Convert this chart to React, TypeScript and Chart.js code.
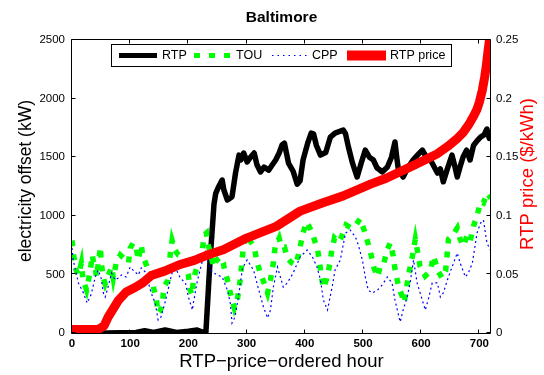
import React, { useEffect, useRef } from "react";
import { Chart, registerables } from "chart.js";

Chart.register(...registerables);

// Axis ticks
const hourTicks = [0, 100, 200, 300, 400, 500, 600, 700];
const kwTicks = [0, 500, 1000, 1500, 2000, 2500];
const kwTickLabels = ["0", "500", "1000", "1500", "2000", "2500"];
const priceTicks = [0, 0.05, 0.1, 0.15, 0.2, 0.25];
const priceTickLabels = ["0", "0.05", "0.1", "0.15", "0.2", "0.25"];

// [hour, kW] — real-time pricing offset
const rtpPoints: [number, number][] = [
  [0, 0], [60, 0], [110, 5], [125, 20], [140, 5], [160, 25], [180, 5], [200, 15], [215, 25], [225, 5],
  [230, 0], [237, 600], [244, 1100], [247, 1192], [252, 1248], [258, 1305], [261, 1220], [267, 1135],
  [275, 1163], [281, 1365], [287, 1518], [290, 1476], [295, 1536], [301, 1459], [307, 1502], [313, 1536],
  [318, 1433], [324, 1374], [330, 1416], [338, 1390], [344, 1433], [350, 1476], [356, 1536], [361, 1604],
  [365, 1620], [372, 1450], [380, 1380], [387, 1270], [392, 1300], [397, 1476], [405, 1620], [411, 1706],
  [415, 1700], [420, 1600], [427, 1518], [436, 1540], [444, 1672], [452, 1706], [460, 1720], [466, 1732],
  [470, 1700], [475, 1587], [482, 1450], [490, 1331], [497, 1450], [504, 1561], [511, 1500], [518, 1476],
  [524, 1410], [533, 1374], [542, 1416], [549, 1500], [555, 1630], [558, 1500], [561, 1390], [569, 1331],
  [576, 1400], [586, 1476], [594, 1520], [602, 1561], [609, 1500], [616, 1476], [622, 1420], [628, 1365],
  [633, 1400], [638, 1290], [645, 1400], [653, 1518], [658, 1420], [662, 1331], [667, 1420], [672, 1502],
  [678, 1560], [684, 1476], [690, 1600], [696, 1640], [702, 1672], [708, 1690], [713, 1740], [717, 1660],
  [720, 1700],
];

// [hour, kW] — time-of-use offset
const touPoints: [number, number][] = [
  [0, 790], [3, 660], [7, 537], [11, 495], [16, 597], [19, 452], [25, 367], [31, 520], [35, 665], [37, 600],
  [40, 563], [42, 478], [49, 734], [50, 606], [54, 469], [57, 420], [68, 563], [71, 469], [76, 600], [83, 665],
  [92, 623], [97, 597], [100, 725], [105, 768], [110, 734], [114, 623], [119, 751], [122, 648], [126, 606],
  [129, 563], [134, 537], [140, 392], [145, 281], [148, 171], [152, 196], [155, 239], [157, 341], [160, 409],
  [165, 452], [169, 682], [172, 790], [177, 708], [183, 665], [190, 648], [195, 580], [200, 495], [203, 367],
  [207, 324], [208, 435], [212, 520], [217, 580], [224, 708], [227, 836], [231, 853], [233, 768], [238, 682],
  [243, 563], [248, 620], [255, 648], [260, 597], [263, 520], [269, 420], [272, 341], [279, 213], [284, 281],
  [289, 452], [294, 708], [298, 836], [305, 793], [313, 734], [318, 606], [323, 520], [330, 427], [336, 341],
  [341, 452], [346, 597], [349, 734], [356, 810], [360, 734], [365, 734], [370, 640], [377, 600], [384, 580],
  [389, 665], [397, 853], [403, 947], [408, 904], [415, 819], [422, 708], [425, 623], [428, 495], [432, 384],
  [437, 452], [442, 563], [446, 691], [451, 810], [458, 776], [463, 819], [471, 921], [480, 896], [488, 921],
  [495, 975], [502, 879], [509, 760], [514, 665], [519, 555], [525, 480], [530, 572], [535, 580], [542, 716],
  [547, 768], [552, 657], [555, 546], [561, 401], [567, 316], [571, 260], [578, 486], [585, 657], [590, 800],
  [593, 716], [598, 572], [607, 486], [616, 530], [621, 657], [630, 520], [636, 470], [642, 530], [647, 802],
  [653, 827], [662, 896], [667, 802], [672, 742], [679, 827], [684, 780], [690, 913], [696, 1000], [702, 1120],
  [707, 1109], [713, 1194], [720, 1150],
];

// [hour, kW] — critical peak pricing offset
const cppPoints: [number, number][] = [
  [0, 725], [2, 623], [11, 427], [19, 350], [26, 256], [33, 330], [40, 478], [45, 537], [50, 469], [54, 341],
  [57, 307], [62, 392], [68, 512], [74, 452], [80, 469], [85, 495], [93, 478], [100, 563], [105, 537],
  [114, 495], [119, 555], [126, 520], [131, 435], [136, 341], [143, 256], [148, 111], [153, 137], [160, 264],
  [165, 367], [171, 495], [176, 575], [186, 469], [195, 427], [200, 307], [207, 196], [208, 239], [215, 435],
  [220, 537], [229, 708], [234, 597], [241, 520], [250, 495], [258, 478], [267, 367], [272, 256], [275, 85],
  [280, 137], [286, 307], [293, 555], [301, 623], [312, 537], [320, 384], [329, 222], [336, 128], [341, 196],
  [346, 392], [353, 563], [358, 478], [363, 392], [370, 427], [380, 512], [392, 648], [404, 708], [413, 650],
  [421, 563], [427, 452], [432, 281], [439, 196], [447, 392], [452, 537], [461, 623], [470, 853], [478, 879],
  [487, 819], [492, 751], [499, 623], [504, 478], [509, 367], [516, 341], [525, 367], [533, 410], [542, 478],
  [550, 427], [555, 281], [561, 154], [564, 94], [569, 196], [576, 307], [581, 427], [587, 623], [593, 427],
  [602, 281], [607, 196], [612, 281], [619, 427], [628, 427], [633, 307], [638, 341], [645, 452], [653, 563],
  [662, 682], [667, 597], [676, 478], [681, 512], [688, 597], [696, 853], [702, 938], [707, 964], [713, 768],
  [719, 708],
];

// [hour, $/kWh] — RTP price, sorted ascending
const pricePoints: [number, number][] = [
  [0, 0.003], [45, 0.003], [55, 0.006], [62, 0.0135], [70, 0.02], [80, 0.028], [93, 0.035], [109, 0.039],
  [122, 0.043], [136, 0.049], [160, 0.053], [183, 0.058], [210, 0.062], [235, 0.067], [260, 0.071],
  [300, 0.081], [351, 0.091], [392, 0.104], [430, 0.111], [466, 0.117], [513, 0.127], [540, 0.132],
  [587, 0.143], [628, 0.153], [645, 0.159], [660, 0.165], [672, 0.171], [682, 0.178], [690, 0.185],
  [696, 0.191], [700, 0.197], [705, 0.207], [709, 0.218], [712, 0.228], [715, 0.241], [718, 0.252],
  [720, 0.262],
];

const FONT = '"Liberation Sans", Arial, Helvetica, sans-serif';

const toXY = (pts: [number, number][]) => pts.map(([x, y]) => ({ x, y }));

const decorPlugin = {
  id: "decor",
  afterDatasetsDraw(chart: any) {
    const { ctx, chartArea: a, scales } = chart;
    ctx.save();

    // axes box with inward ticks
    const L = Math.round(a.left) - 0.5;
    const R = Math.round(a.right) - 0.5;
    const T = Math.round(a.top) - 0.5;
    const B = Math.round(a.bottom) + 0.5;
    ctx.strokeStyle = "#000";
    ctx.lineWidth = 1;
    ctx.setLineDash([]);
    ctx.beginPath();
    ctx.rect(L, T, R - L, B - T);
    const tl = 4;
    hourTicks.forEach((v) => {
      const x = Math.round(scales.x.getPixelForValue(v)) - 0.5;
      ctx.moveTo(x, B);
      ctx.lineTo(x, B - tl);
      ctx.moveTo(x, T);
      ctx.lineTo(x, T + tl);
    });
    kwTicks.forEach((v) => {
      const y = Math.round(scales.y.getPixelForValue(v)) - 0.5;
      ctx.moveTo(L, y);
      ctx.lineTo(L + tl, y);
    });
    priceTicks.forEach((v) => {
      const y = Math.round(scales.y1.getPixelForValue(v)) - 0.5;
      ctx.moveTo(R, y);
      ctx.lineTo(R - tl, y);
    });
    ctx.stroke();

    // legend
    const lx = 111.5, ly = 44.5, lw = 340, lh = 22;
    ctx.fillStyle = "#fff";
    ctx.fillRect(lx, ly, lw, lh);
    ctx.strokeRect(lx, ly, lw, lh);
    const my = 55.5;
    const seg = (x1: number, x2: number, color: string, w: number, dash: number[]) => {
      ctx.save();
      ctx.strokeStyle = color;
      ctx.lineWidth = w;
      ctx.lineCap = "butt";
      ctx.setLineDash(dash);
      ctx.beginPath();
      ctx.moveTo(x1, my);
      ctx.lineTo(x2, my);
      ctx.stroke();
      ctx.restore();
    };
    seg(119, 157, "#000000", 5, []);
    seg(194, 232, "#00ff00", 5, [6, 9]);
    seg(272, 307, "#0000ff", 1, [1.5, 4]);
    seg(347, 386, "#ff0000", 10, []);
    ctx.fillStyle = "#000";
    ctx.font = `12.5px ${FONT}`;
    ctx.textAlign = "left";
    ctx.textBaseline = "middle";
    ctx.fillText("RTP", 162, 56);
    ctx.fillText("TOU", 236, 56);
    ctx.fillText("CPP", 312, 56);
    ctx.fillText("RTP price", 390, 56);

    // titles
    const cx = (a.left + a.right) / 2;
    ctx.textAlign = "center";
    ctx.font = `bold 15.5px ${FONT}`;
    ctx.fillText("Baltimore", cx, 18);
    ctx.font = `18.5px ${FONT}`;
    ctx.fillText("RTP\u2212price\u2212ordered hour", cx, 362);

    ctx.save();
    ctx.translate(26, 181);
    ctx.rotate(-Math.PI / 2);
    ctx.font = `17.5px ${FONT}`;
    ctx.fillText("electricity offset (kW)", 0, 0);
    ctx.restore();

    ctx.save();
    ctx.translate(528, 174);
    ctx.rotate(-Math.PI / 2);
    ctx.fillStyle = "#ff0000";
    ctx.font = `18.5px ${FONT}`;
    ctx.fillText("RTP price ($/kWh)", 0, 0);
    ctx.restore();

    ctx.restore();
  },
};

export default function App() {
  const ref = useRef<HTMLCanvasElement>(null);

  useEffect(() => {
    const canvas = ref.current;
    if (!canvas) return;
    const chart = new Chart(canvas, {
      type: "line",
      data: {
        datasets: [
          {
            label: "RTP price",
            data: toXY(pricePoints),
            yAxisID: "y1",
            borderColor: "#ff0000",
            borderWidth: 9,
            borderCapStyle: "round",
            borderJoinStyle: "round",
            clip: 0,
            order: 0,
          },
          {
            label: "CPP",
            data: toXY(cppPoints),
            yAxisID: "y",
            borderColor: "#0000ff",
            borderWidth: 1.2,
            borderDash: [2, 3],
            clip: 0,
            order: 1,
          },
          {
            label: "TOU",
            data: toXY(touPoints),
            yAxisID: "y",
            borderColor: "#00ff00",
            borderWidth: 5.5,
            borderDash: [6, 8],
            borderCapStyle: "butt",
            clip: 0,
            order: 2,
          },
          {
            label: "RTP",
            data: toXY(rtpPoints),
            yAxisID: "y",
            borderColor: "#000000",
            borderWidth: 5.5,
            borderCapStyle: "round",
            borderJoinStyle: "round",
            clip: 0,
            order: 3,
          },
        ] as any,
      },
      options: {
        responsive: false,
        animation: false,
        events: [],
        layout: { padding: { top: 40, left: 0, right: 0, bottom: 0 } },
        elements: { point: { radius: 0 }, line: { tension: 0 } },
        plugins: {
          legend: { display: false },
          tooltip: { enabled: false },
          title: { display: false },
        },
        scales: {
          x: {
            type: "linear",
            min: 0,
            max: 720,
            grid: { display: false, drawTicks: false },
            border: { display: false },
            afterBuildTicks: (s: any) => {
              s.ticks = hourTicks.map((value) => ({ value }));
            },
            afterFit: (s: any) => {
              s.height = 42;
            },
            ticks: {
              color: "#000",
              padding: 4,
              autoSkip: false,
              maxRotation: 0,
              font: { family: FONT, size: 11.5, weight: "bold" },
              callback: (_v: any, i: number) => String(hourTicks[i]),
            },
          },
          y: {
            position: "left",
            min: 0,
            max: 2500,
            grid: { display: false, drawTicks: false },
            border: { display: false },
            afterBuildTicks: (s: any) => {
              s.ticks = kwTicks.map((value) => ({ value }));
            },
            afterFit: (s: any) => {
              s.width = 72;
            },
            ticks: {
              color: "#000",
              padding: 7,
              autoSkip: false,
              font: { family: FONT, size: 11.5 },
              callback: (_v: any, i: number) => kwTickLabels[i],
            },
          },
          y1: {
            position: "right",
            min: 0,
            max: 0.25,
            grid: { display: false, drawTicks: false },
            border: { display: false },
            afterBuildTicks: (s: any) => {
              s.ticks = priceTicks.map((value) => ({ value }));
            },
            afterFit: (s: any) => {
              s.width = 53;
            },
            ticks: {
              color: "#000",
              padding: 5,
              autoSkip: false,
              font: { family: FONT, size: 11.5 },
              callback: (_v: any, i: number) => priceTickLabels[i],
            },
          },
        },
      } as any,
      plugins: [decorPlugin],
    });
    return () => chart.destroy();
  }, []);

  return (
    <div style={{ position: "absolute", left: 0, top: 0, width: 544, height: 375, background: "#fff" }}>
      <canvas ref={ref} width={544} height={375} style={{ display: "block" }} />
    </div>
  );
}
